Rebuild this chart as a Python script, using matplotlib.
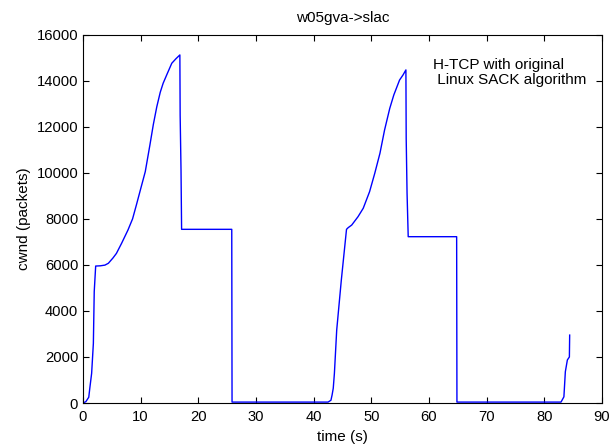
import numpy as np
import matplotlib.pyplot as plt

plt.rcParams['font.family'] = ['Liberation Sans', 'DejaVu Sans']

# cwnd trace (time in s, cwnd in packets)
time = [0.0, 0.5, 1.0, 1.2, 1.5, 1.8, 1.95, 2.2, 3.0, 3.8, 4.4, 5.2, 5.8,
        6.7, 7.8, 8.6, 9.3, 10.0, 10.8, 11.6, 12.2, 12.8, 13.4, 13.9, 14.6,
        15.4, 16.1, 16.8, 16.85, 17.0, 17.1, 25.8, 25.85, 42.5, 43.0,
        43.2, 43.4, 43.6, 44.0, 44.8, 45.7, 46.0, 46.6, 47.7, 48.6, 49.7,
        50.6, 51.5, 52.3, 53.2, 53.9, 54.9, 55.5, 56.0, 56.05, 56.2, 56.4,
        64.8, 64.85, 82.9, 83.4, 83.65, 84.0, 84.35, 84.4]
cwnd = [0, 60, 250, 680, 1290, 2590, 4840, 5950, 5960, 5990, 6070, 6300,
        6500, 6940, 7515, 8000, 8640, 9300, 10050, 11200, 12100, 12870,
        13500, 13890, 14300, 14760, 14950, 15120, 12500, 10120, 7545, 7545,
        40, 40, 120, 350, 640, 1290, 3170, 5340, 7545, 7620, 7730, 8095,
        8460, 9180, 9980, 10850, 11860, 12800, 13380, 14030, 14250, 14470,
        11500, 9110, 7225, 7225, 40, 40, 270, 1360, 1870, 2000, 2950]

fig = plt.figure(figsize=(6.12, 4.47), dpi=100)
ax = fig.add_axes([0.1356, 0.0984, 0.848, 0.824])
ax.plot(time, cwnd, color='blue', linewidth=1)

ax.set_xlim(0, 90)
ax.set_ylim(0, 16000)
ax.set_xticks(np.arange(0, 91, 10))
ax.set_yticks(np.arange(0, 16001, 2000))
ax.tick_params(direction='in', top=True, right=True, labelsize=10.6, length=4)
ax.tick_params(axis='x', pad=5)
for s in ax.spines.values():
    s.set_linewidth(0.8)

ax.set_title('w05gva->slac', fontsize=11, pad=9)
ax.set_xlabel('time (s)', fontsize=11, labelpad=4)
ax.set_ylabel('cwnd (packets)', fontsize=11)
ax.text(60.7, 14355, 'H-TCP with original\n Linux SACK algorithm',
        fontsize=11, ha='left', va='center', linespacing=1.15)

fig.savefig('out.png', dpi=100)
